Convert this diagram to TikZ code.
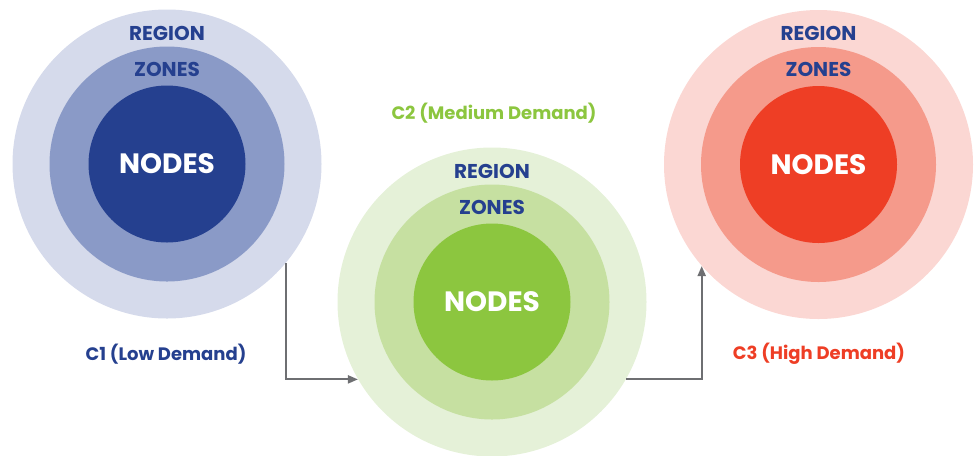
\documentclass[tikz,border=0pt]{standalone}
\usepackage{fontspec}
\setmainfont{Poppins}
\usetikzlibrary{arrows.meta}

\definecolor{lowout}{RGB}{213,218,235}
\definecolor{lowmid}{RGB}{138,154,199}
\definecolor{lowin}{RGB}{37,64,143}
\definecolor{medout}{RGB}{229,241,216}
\definecolor{medmid}{RGB}{198,224,161}
\definecolor{medin}{RGB}{140,198,63}
\definecolor{highout}{RGB}{251,215,211}
\definecolor{highmid}{RGB}{245,154,139}
\definecolor{highin}{RGB}{238,62,37}
\definecolor{flowgray}{RGB}{110,111,114}

\tikzset{
	ring/.style={circle, draw=none, inner sep=0pt},
	outerring/.style={ring, minimum size=231.75pt},
	midring/.style={ring, minimum size=176.25pt},
	innerring/.style={ring, minimum size=117.75pt, text=white, font=\fontsize{21}{25}\selectfont\bfseries},
	ringlabel/.style={text=lowin, font=\fontsize{15}{18}\selectfont\bfseries},
	demandlabel/.style={font=\fontsize{13.5}{16}\selectfont\bfseries},
	flow/.style={draw=flowgray, line width=1.5pt, -{Triangle[length=7.5pt,width=6pt]}}
}

\begin{document}
\begin{tikzpicture}[x=0.75pt,y=0.75pt,yscale=-1,xscale=1]
	\useasboundingbox (0,0) rectangle (975,455);

	%Shape: C1 circles
	\draw (167,164) node (c1out) [outerring, fill=lowout] {};
	\draw (167,164) node (c1mid) [midring, fill=lowmid] {};
	\draw (167,164) node (c1in) [innerring, fill=lowin] {NODES};
	%Shape: C2 circles
	\draw (492,302) node (c2out) [outerring, fill=medout] {};
	\draw (492,302) node (c2mid) [midring, fill=medmid] {};
	\draw (492,302) node (c2in) [innerring, fill=medin] {NODES};
	%Shape: C3 circles
	\draw (818.5,164.5) node (c3out) [outerring, fill=highout] {};
	\draw (818.5,164.5) node (c3mid) [midring, fill=highmid] {};
	\draw (818.5,164.5) node (c3in) [innerring, fill=highin] {NODES};

	%Straight Lines: C1 to C2
	\draw [flow] (c1out.-40) |- (c2out.210);
	%Straight Lines: C2 to C3
	\draw [flow] (c2out.-30) -| (c3out.221);

	% Text Node
	\draw (167,33.5) node (c1region) [ringlabel] {REGION};
	% Text Node
	\draw (167,69.5) node (c1zones) [ringlabel] {ZONES};
	% Text Node
	\draw (492,171) node (c2region) [ringlabel] {REGION};
	% Text Node
	\draw (492,207) node (c2zones) [ringlabel] {ZONES};
	% Text Node
	\draw (818.5,33.5) node (c3region) [ringlabel] {REGION};
	% Text Node
	\draw (818.5,69.5) node (c3zones) [ringlabel] {ZONES};
	% Text Node
	\draw (166,354) node (c1label) [demandlabel, text=lowin] {C1 (Low Demand)};
	% Text Node
	\draw (494,113) node (c2label) [demandlabel, text=medin] {C2 (Medium Demand)};
	% Text Node
	\draw (819,354) node (c3label) [demandlabel, text=highin] {C3 (High Demand)};

\end{tikzpicture}
\end{document}
